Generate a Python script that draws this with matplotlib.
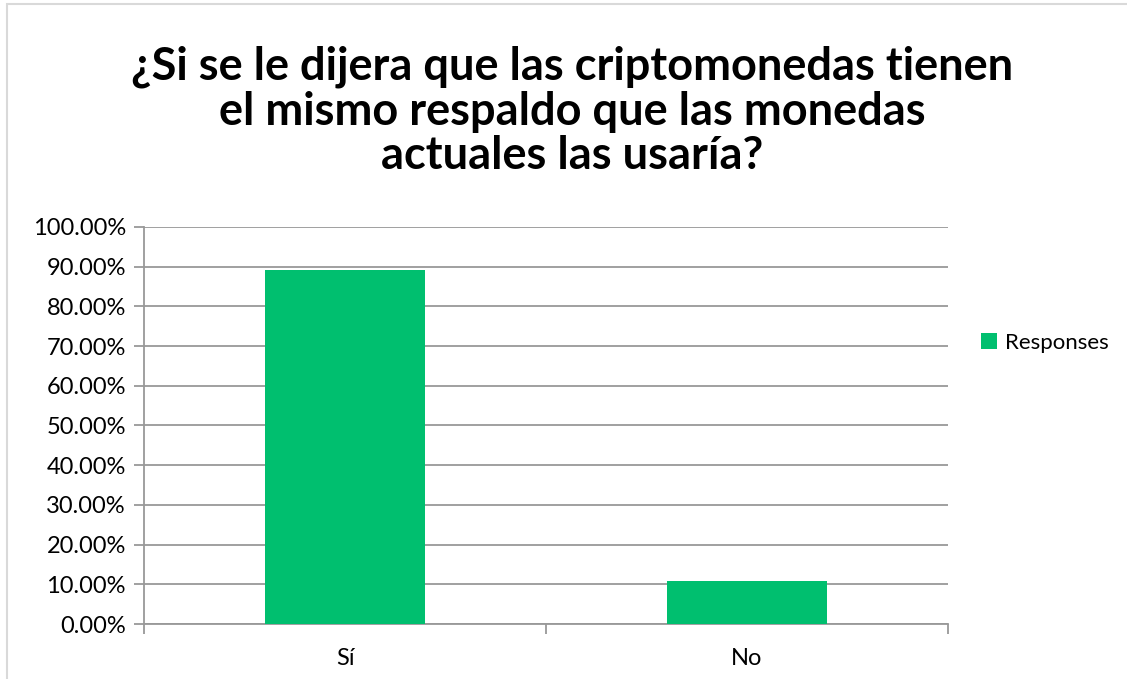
import matplotlib.pyplot as plt
from matplotlib.patches import Rectangle
from matplotlib.ticker import FuncFormatter, MultipleLocator

categories = ["Sí", "No"]
responses = [89.29, 10.71]
title = "¿Si se le dijera que las criptomonedas tienen\nel mismo respaldo que las monedas\nactuales las usaría?"

plt.rcParams["font.family"] = ["Lato", "DejaVu Sans"]

fig = plt.figure(figsize=(11.27, 6.79), dpi=100)
ax = fig.add_axes([0.1278, 0.081, 0.7134, 0.5847])

# light frame around the chart, like the Excel export
fig.patches.append(Rectangle((0.006, -0.02), 1.1, 1.014, transform=fig.transFigure,
                             fill=False, edgecolor="#d9d9d9", linewidth=1.5))

x = range(len(categories))
ax.bar(x, responses, width=0.4, color="#00bf6f", label="Responses", zorder=3)

ax.set_xlim(-0.5, len(categories) - 0.5)
ax.set_ylim(0, 100)
ax.yaxis.set_major_locator(MultipleLocator(10))
ax.yaxis.set_major_formatter(FuncFormatter(lambda v, _: f"{v:.2f}%"))
ax.grid(axis="y", color="#999999", linewidth=1.3, zorder=0)

ax.set_xticks([-0.5, 0.5, 1.5])
ax.set_xticklabels([])
ax.set_xticks(list(x), minor=True)
ax.set_xticklabels(categories, minor=True)
ax.tick_params(axis="x", which="major", length=7, color="#999999", width=1.3)
ax.tick_params(axis="x", which="minor", length=0, labelsize=17, pad=17)
ax.tick_params(axis="y", length=7, color="#999999", width=1.3, labelsize=17, pad=6)

for s in ["top", "right"]:
    ax.spines[s].set_visible(False)
ax.spines["left"].set_color("#999999")
ax.spines["left"].set_linewidth(1.3)
ax.spines["bottom"].set_color("#999999")
ax.spines["bottom"].set_linewidth(1.3)

fig.text(0.508, 0.933, title, ha="center", va="top", fontsize=32.5,
         fontweight="bold", linespacing=1.08)

ax.legend(loc="center left", bbox_to_anchor=(1.041, 0.708), frameon=False,
          borderpad=0, borderaxespad=0,
          fontsize=16, handlelength=0.7, handleheight=0.7, handletextpad=0.4)

fig.savefig("out.png", dpi=100, facecolor="white")
